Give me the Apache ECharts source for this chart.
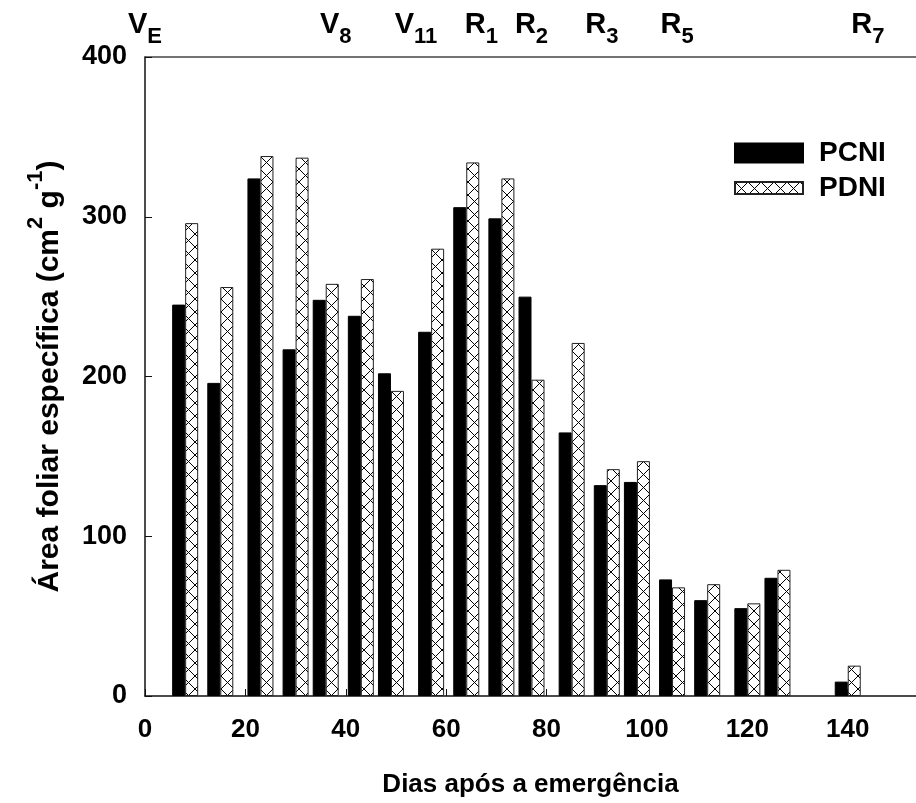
<!DOCTYPE html>
<html>
<head>
<meta charset="utf-8">
<script src="https://cdn.jsdelivr.net/npm/echarts@6/dist/echarts.min.js"></script>
<style>html,body{margin:0;padding:0;background:#fff}#chart{width:916px;height:803px}</style>
</head>
<body>
<div id="chart"></div>
<script>
// ---- data ----
const days = [8, 15, 23, 30, 36, 43, 49, 57, 64, 71, 77, 85, 92, 98, 105, 112, 120, 126, 140];
const pcni = [245, 196, 324, 217, 248, 238, 202, 228, 306, 299, 250, 165, 132, 134, 73, 60, 55, 74, 9];
const pdni = [296, 256, 338, 337, 258, 261, 191, 280, 334, 324, 198, 221, 142, 147, 68, 70, 58, 79, 19];
const xTicks = [0, 20, 40, 60, 80, 100, 120, 140];
const yTicks = [0, 100, 200, 300, 400];
const stageDays = [0, 38, 54, 67, 77, 91, 106, 144];
const stageMain = ['V', 'V', 'V', 'R', 'R', 'R', 'R', 'R'];
const stageSub = ['E', '8', '11', '1', '2', '3', '5', '7'];

const FONT = '"Liberation Sans", Arial, sans-serif';

// cross-hatch pattern
const pc = document.createElement('canvas');
pc.width = 13; pc.height = 13;
const g = pc.getContext('2d');
g.fillStyle = '#fff'; g.fillRect(0, 0, 13, 13);
g.strokeStyle = '#000'; g.lineWidth = 1;
g.beginPath(); g.moveTo(0, 0); g.lineTo(13, 13); g.moveTo(13, 0); g.lineTo(0, 13); g.stroke();

const chart = echarts.init(document.getElementById('chart'), null, {renderer: 'canvas'});
const axisLineStyle = {color: '#111', width: 1.5};
chart.setOption({
  animation: false,
  backgroundColor: '#fff',
  grid: {left: 145, top: 57, right: 0, bottom: 107, containLabel: false},
  legend: [
    {data: ['PCNI'], left: 729, top: 134, icon: 'rect', itemWidth: 68, itemHeight: 19, itemGap: 0,
     textStyle: {fontFamily: FONT, fontWeight: 'bold', fontSize: 28, color: '#000', padding: [0, 0, 0, 11]}},
    {data: ['PDNI'], left: 729, top: 169, icon: 'rect', itemWidth: 68, itemHeight: 12, itemGap: 0,
     textStyle: {fontFamily: FONT, fontWeight: 'bold', fontSize: 28, color: '#000', padding: [0, 0, 0, 11]}}
  ],
  xAxis: [
    {type: 'value', min: 0, max: 153.6, position: 'bottom',
     name: 'Dias após a emergência', nameLocation: 'middle', nameGap: 76,
     nameTextStyle: {fontFamily: FONT, fontWeight: 'bold', fontSize: 26, color: '#000'},
     axisLine: {show: true, lineStyle: axisLineStyle},
     axisTick: {show: true, inside: true, length: 7, customValues: xTicks, lineStyle: {color: '#111'}},
     axisLabel: {customValues: xTicks, margin: 21, fontFamily: FONT, fontWeight: 'bold', fontSize: 26, color: '#000'},
     splitLine: {show: false}},
    {type: 'value', min: 0, max: 153.6, position: 'top',
     axisLine: {show: true, lineStyle: {color: '#444', width: 1.5}},
     axisTick: {show: false},
     axisLabel: {customValues: stageDays, margin: 9,
       formatter: function (v) { const i = stageDays.indexOf(v); return i < 0 ? '' : '{m|' + stageMain[i] + '}{s|' + stageSub[i] + '}'; },
       rich: {
         m: {fontFamily: FONT, fontWeight: 'bold', fontSize: 29, color: '#000', lineHeight: 38, verticalAlign: 'top'},
         s: {fontFamily: FONT, fontWeight: 'bold', fontSize: 22, color: '#000', lineHeight: 38, verticalAlign: 'bottom'}
       }},
     splitLine: {show: false}},
  ],
  yAxis: {type: 'value', min: 0, max: 400, interval: 100,
    name: '{a|Área foliar específica (cm}{p|2}{a| g}{p|-1}{a|)}', nameLocation: 'middle', nameGap: 80, nameRotate: 90,
    nameTextStyle: {rich: {
      a: {fontFamily: FONT, fontWeight: 'bold', fontSize: 30, color: '#000', lineHeight: 40, verticalAlign: 'bottom'},
      p: {fontFamily: FONT, fontWeight: 'bold', fontSize: 22, color: '#000', lineHeight: 40, verticalAlign: 'top'}
    }},
    axisLine: {show: true, lineStyle: axisLineStyle},
    axisTick: {show: true, inside: true, length: 7, lineStyle: {color: '#111'}},
    axisLabel: {margin: 18, fontFamily: FONT, fontWeight: 'bold', fontSize: 27, color: '#000'},
    splitLine: {show: false}},
  series: [
    {name: 'PCNI', type: 'bar', xAxisIndex: 0, barWidth: 13, barGap: '0%',
     itemStyle: {color: '#000', borderColor: '#000', borderWidth: 1},
     data: days.map((d, i) => [d, pcni[i]])},
    {name: 'PDNI', type: 'bar', xAxisIndex: 0, barWidth: 13, barGap: '0%',
     itemStyle: {color: {image: pc, repeat: 'repeat'}, borderColor: '#222', borderWidth: 1},
     data: days.map((d, i) => [d, pdni[i]])}
  ]
});
</script>
</body>
</html>
